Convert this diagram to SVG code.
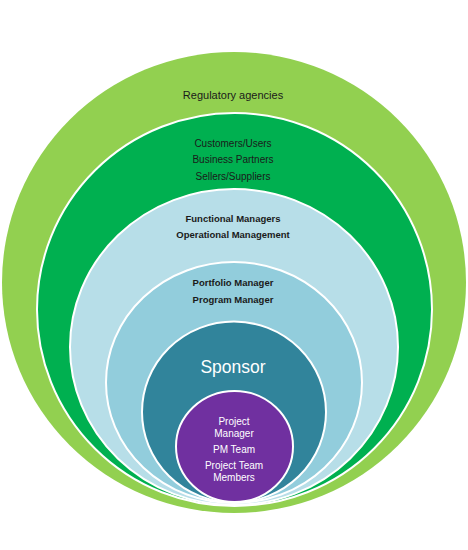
<svg xmlns="http://www.w3.org/2000/svg" width="468" height="550" viewBox="0 0 468 550">
<style>
.ring{stroke:#ffffff;stroke-width:2}
.t{font-family:"Liberation Sans",Arial,sans-serif;text-anchor:middle;fill:#1a1a1a}
.s{font-size:10px}
.b{font-size:9.5px;font-weight:bold}
.w{fill:#ffffff}
</style>
<rect width="468" height="550" fill="#ffffff"/>
<g id="regulatory">
<ellipse cx="234" cy="282.5" rx="232" ry="230.5" fill="#92D050"/>
<text class="t" x="233" y="99" font-size="11">Regulatory agencies</text>
</g>
<g id="customers">
<ellipse class="ring" cx="234.5" cy="309.5" rx="197.5" ry="196.5" fill="#00B050"/>
<text class="t s" x="233" y="146.5">Customers/Users</text>
<text class="t s" x="233" y="162.5">Business Partners</text>
<text class="t s" x="233" y="179.5">Sellers/Suppliers</text>
</g>
<g id="functional">
<ellipse class="ring" cx="234" cy="347" rx="164" ry="158" fill="#B7DEE8"/>
<text class="t b" x="233" y="222">Functional  Managers</text>
<text class="t b" x="233" y="237.5">Operational Management</text>
</g>
<g id="portfolio">
<ellipse class="ring" cx="234" cy="382.5" rx="128" ry="120.5" fill="#92CDDC"/>
<text class="t b" x="233" y="286">Portfolio Manager</text>
<text class="t b" x="233" y="302.5">Program Manager</text>
</g>
<g id="sponsor">
<ellipse class="ring" cx="234" cy="412" rx="92" ry="90.5" fill="#31849B"/>
<text class="t w" x="233" y="373" font-size="17.5">Sponsor</text>
</g>
<g id="project">
<ellipse class="ring" cx="234.5" cy="446.5" rx="58.5" ry="55.5" fill="#7030A0"/>
<text class="t s w" x="234" y="424.5">Project</text>
<text class="t s w" x="234" y="436.5">Manager</text>
<text class="t s w" x="234" y="452.5">PM Team</text>
<text class="t s w" x="234" y="468.5">Project Team</text>
<text class="t s w" x="234" y="480.5">Members</text>
</g>
<g id="connectors"></g>
</svg>
